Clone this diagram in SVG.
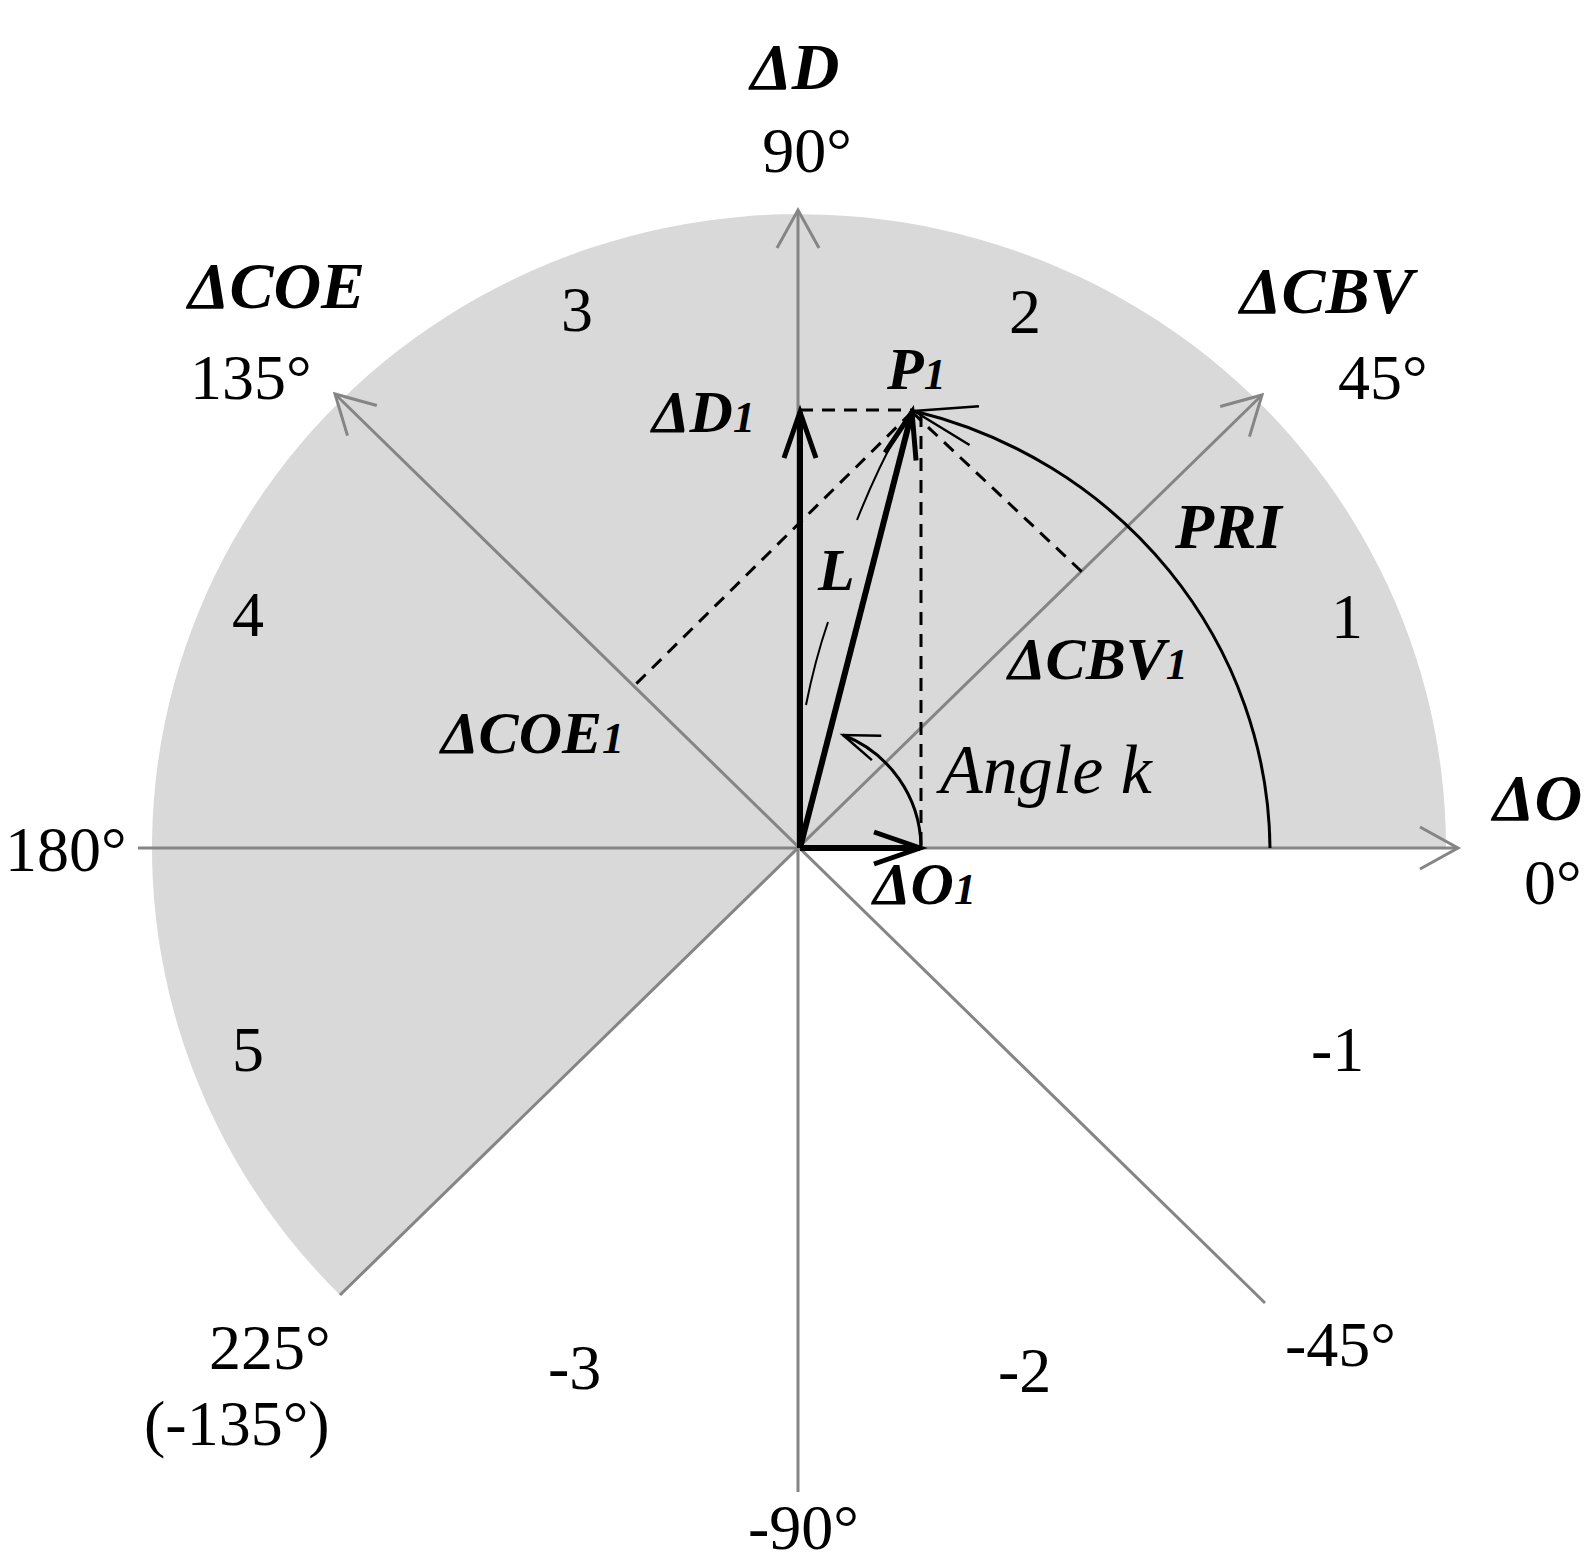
<svg xmlns="http://www.w3.org/2000/svg" width="1584" height="1565" viewBox="0 0 1584 1565">
<style>
.axis{stroke:#858585;stroke-width:3;fill:none}
.vec{stroke:#000;stroke-width:6;fill:none}
.dash{stroke:#000;stroke-width:3;stroke-dasharray:13 9;fill:none}
.thin{stroke:#000;stroke-width:3;fill:none}
.hair{stroke:#000;stroke-width:2;fill:none}
text{font-family:"Liberation Serif","Times New Roman",serif;fill:#000}
.num{font-size:64px}
.lab{font-size:60px;font-weight:bold;font-style:italic}
.big{font-size:66px}
.it{font-size:70px;font-style:italic}
.sub{font-size:44px}
.mid{text-anchor:middle}
</style>
<defs>
<marker id="ga" markerUnits="userSpaceOnUse" overflow="visible" refX="0" refY="0" orient="auto">
<path d="M-38,-21 L0,0 L-38,21" stroke="#858585" stroke-width="3" fill="none"/>
</marker>
<marker id="ba" markerUnits="userSpaceOnUse" overflow="visible" refX="0" refY="0" orient="auto">
<path d="M-46,-16 L0,0 L-46,16" stroke="#000" stroke-width="5" fill="none"/>
</marker>
<marker id="ta" markerUnits="userSpaceOnUse" overflow="visible" refX="0" refY="0" orient="auto">
<path d="M-62,-20 L0,0 L-62,20" stroke="#000" stroke-width="2.5" fill="none"/>
</marker>
<marker id="sa" markerUnits="userSpaceOnUse" overflow="visible" refX="0" refY="0" orient="auto">
<path d="M-36,-13 L0,0 L-36,13" stroke="#000" stroke-width="2.5" fill="none"/>
</marker>
</defs>
<rect width="1584" height="1565" fill="#fff"/>
<g id="sector">
<path d="M799,848 L1446,848 A647,634 0 1,0 340,1295 Z" fill="#d9d9d9"/>
</g>
<g id="axes">
<line class="axis" x1="138" y1="848" x2="1458" y2="848" marker-end="url(#ga)"/>
<line class="axis" x1="798" y1="1492" x2="798" y2="210" marker-end="url(#ga)"/>
<line class="axis" x1="340" y1="1295" x2="1262" y2="395" marker-end="url(#ga)"/>
<line class="axis" x1="1265" y1="1303" x2="335" y2="394" marker-end="url(#ga)"/>
</g>
<g id="connectors">
<line class="dash" x1="800" y1="410" x2="912" y2="410"/>
<line class="dash" x1="921" y1="414" x2="921" y2="846"/>
<line class="dash" x1="912" y1="412" x2="1082" y2="572"/>
<line class="dash" x1="912" y1="412" x2="636" y2="684"/>
<path class="thin" d="M1270,848 A470,455 0 0,0 914,411" marker-end="url(#ta)"/>
<path class="thin" d="M921,846 A122,122 0 0,0 843,735" marker-end="url(#sa)"/>
<path class="hair" d="M806,705 Q815,660 828,622"/>
<path class="hair" d="M857,520 Q876,472 900,428"/>
<line class="vec" x1="800" y1="848" x2="800" y2="412" marker-end="url(#ba)"/>
<line class="vec" x1="800" y1="848" x2="920" y2="848" marker-end="url(#ba)"/>
<line class="vec" x1="800" y1="848" x2="912" y2="412" marker-end="url(#ba)"/>
</g>
<g id="labels">
<text class="lab big mid" x="795" y="89">ΔD</text>
<text class="num mid" x="807" y="172">90°</text>
<text class="lab big" x="188" y="308">ΔCOE</text>
<text class="num" x="190" y="399">135°</text>
<text class="num mid" x="577" y="331">3</text>
<text class="num mid" x="1025" y="333">2</text>
<text class="lab big" x="1240" y="313">ΔCBV</text>
<text class="num" x="1338" y="399">45°</text>
<text class="lab" x="887" y="389">P<tspan class="sub">1</tspan></text>
<text class="lab" x="652" y="432">ΔD<tspan class="sub">1</tspan></text>
<text class="lab" x="1175" y="548" style="font-size:64px">PRI</text>
<text class="lab" x="818" y="590">L</text>
<text class="num mid" x="248" y="636">4</text>
<text class="num mid" x="1347" y="638">1</text>
<text class="lab" x="1008" y="679">ΔCBV<tspan class="sub">1</tspan></text>
<text class="lab" x="441" y="753">ΔCOE<tspan class="sub">1</tspan></text>
<text class="it" x="940" y="793">Angle k</text>
<text class="num" x="5" y="871">180°</text>
<text class="lab big" x="1493" y="820">ΔO</text>
<text class="num" x="1524" y="904">0°</text>
<text class="lab" x="873" y="904">ΔO<tspan class="sub">1</tspan></text>
<text class="num mid" x="248" y="1071">5</text>
<text class="num" x="1311" y="1071">-1</text>
<text class="num" x="209" y="1369">225°</text>
<text class="num" x="144" y="1445">(-135°)</text>
<text class="num" x="548" y="1389">-3</text>
<text class="num" x="998" y="1392">-2</text>
<text class="num" x="1285" y="1366">-45°</text>
<text class="num" x="748" y="1549">-90°</text>
</g>
</svg>
